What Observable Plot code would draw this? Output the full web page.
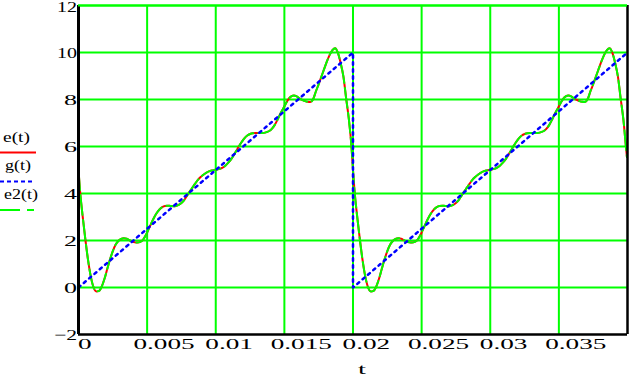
<!DOCTYPE html>
<html>
<head>
<meta charset="utf-8">
<script src="https://cdn.jsdelivr.net/npm/d3@7"></script>
<script src="https://cdn.jsdelivr.net/npm/@observablehq/plot@0.6"></script>
<style>
  html, body { margin: 0; padding: 0; background: #fff; }
  #chart { width: 631px; height: 378px; }
</style>
</head>
<body>
<div id="chart"></div>
<script>
// ---- data ----
const xTicks = [0, 0.005, 0.01, 0.015, 0.02, 0.025, 0.03, 0.035];
const xTickLabels = ["0", "0.005", "0.01", "0.015", "0.02", "0.025", "0.03", "0.035"];
const yTicks = [-2, 0, 2, 4, 6, 8, 10, 12];
const yTickLabels = ["\u22122", "0", "2", "4", "6", "8", "10", "12"];
const xLabel = "t";
const seriesNames = ["e(t)", "g(t)", "e2(t)"];

// first period of e(t)
const tPeriod1 = [0.0000, 0.0001, 0.0003, 0.0005, 0.0007, 0.0009, 0.0011, 0.0013, 0.0015, 0.0017,
  0.0019, 0.0021, 0.0023, 0.0025, 0.0027, 0.0029, 0.0031, 0.0033, 0.0035, 0.0037,
  0.0039, 0.0041, 0.0043, 0.0045, 0.0047, 0.0049, 0.0051, 0.0053, 0.0055, 0.0057,
  0.0059, 0.0061, 0.0063, 0.0065, 0.0067, 0.0069, 0.0071, 0.0073, 0.0075, 0.0077,
  0.0079, 0.0081, 0.0083, 0.0085, 0.0087, 0.0089, 0.0091, 0.0093, 0.0095, 0.0097,
  0.0099, 0.0101, 0.0103, 0.0105, 0.0107, 0.0109, 0.0111, 0.0113, 0.0115, 0.0117,
  0.0119, 0.0121, 0.0123, 0.0125, 0.0127, 0.0129, 0.0131, 0.0133, 0.0135, 0.0137,
  0.0139, 0.0141, 0.0143, 0.0145, 0.0147, 0.0149, 0.0151, 0.0153, 0.0155, 0.0157,
  0.0159, 0.0161, 0.0163, 0.0165, 0.0167, 0.0169, 0.0171, 0.0173, 0.0175, 0.0177,
  0.0179, 0.0181, 0.0183, 0.0185, 0.0187, 0.0189, 0.0191, 0.0193, 0.0195, 0.0197,
  0.0199];
const ePeriod1 = [5.00, 4.20, 3.05, 2.05, 1.15, 0.45, 0.00, -0.17, -0.14, 0.05,
  0.38, 0.80, 1.20, 1.55, 1.82, 1.98, 2.07, 2.10, 2.08, 2.02,
  1.96, 1.92, 1.91, 1.94, 2.03, 2.22, 2.47, 2.73, 2.97, 3.17,
  3.32, 3.42, 3.47, 3.48, 3.47, 3.46, 3.47, 3.52, 3.60, 3.72,
  3.90, 4.08, 4.25, 4.42, 4.58, 4.70, 4.80, 4.88, 4.94, 4.98,
  5.00, 5.02, 5.05, 5.10, 5.18, 5.30, 5.44, 5.62, 5.82, 6.02,
  6.20, 6.36, 6.47, 6.53, 6.56, 6.57, 6.57, 6.57, 6.58, 6.61,
  6.66, 6.76, 6.92, 7.14, 7.38, 7.60, 7.82, 8.02, 8.13, 8.17,
  8.13, 8.05, 7.98, 7.93, 7.90, 7.89, 8.02, 8.35, 8.65, 8.98,
  9.30, 9.62, 9.90, 10.10, 10.18, 9.98, 9.55, 8.98, 8.05, 7.15,
  5.90];

// second period of e(t)
const tPeriod2 = [0.0200, 0.0201, 0.0203, 0.0205, 0.0207, 0.0209, 0.0211, 0.0213, 0.0215, 0.0217,
  0.0219, 0.0221, 0.0223, 0.0225, 0.0227, 0.0229, 0.0231, 0.0233, 0.0235, 0.0237,
  0.0239, 0.0241, 0.0243, 0.0245, 0.0247, 0.0249, 0.0251, 0.0253, 0.0255, 0.0257,
  0.0259, 0.0261, 0.0263, 0.0265, 0.0267, 0.0269, 0.0271, 0.0273, 0.0275, 0.0277,
  0.0279, 0.0281, 0.0283, 0.0285, 0.0287, 0.0289, 0.0291, 0.0293, 0.0295, 0.0297,
  0.0299, 0.0301, 0.0303, 0.0305, 0.0307, 0.0309, 0.0311, 0.0313, 0.0315, 0.0317,
  0.0319, 0.0321, 0.0323, 0.0325, 0.0327, 0.0329, 0.0331, 0.0333, 0.0335, 0.0337,
  0.0339, 0.0341, 0.0343, 0.0345, 0.0347, 0.0349, 0.0351, 0.0353, 0.0355, 0.0357,
  0.0359, 0.0361, 0.0363, 0.0365, 0.0367, 0.0369, 0.0371, 0.0373, 0.0375, 0.0377,
  0.0379, 0.0381, 0.0383, 0.0385, 0.0387, 0.0389, 0.0391, 0.0393, 0.0395, 0.0397,
  0.0399, 0.03996];
const ePeriod2 = [5.00, 4.20, 3.05, 2.05, 1.15, 0.45, 0.00, -0.17, -0.14, 0.05,
  0.38, 0.80, 1.20, 1.55, 1.82, 1.98, 2.07, 2.10, 2.08, 2.02,
  1.96, 1.92, 1.91, 1.94, 2.03, 2.22, 2.47, 2.73, 2.97, 3.17,
  3.32, 3.42, 3.47, 3.48, 3.47, 3.46, 3.47, 3.52, 3.60, 3.72,
  3.90, 4.08, 4.25, 4.42, 4.58, 4.70, 4.80, 4.88, 4.94, 4.98,
  5.00, 5.02, 5.05, 5.10, 5.18, 5.30, 5.44, 5.62, 5.82, 6.02,
  6.20, 6.36, 6.47, 6.53, 6.56, 6.57, 6.57, 6.57, 6.58, 6.61,
  6.66, 6.76, 6.92, 7.14, 7.38, 7.60, 7.82, 8.02, 8.13, 8.17,
  8.13, 8.05, 7.98, 7.93, 7.90, 7.89, 8.02, 8.35, 8.65, 8.98,
  9.30, 9.62, 9.90, 10.10, 10.18, 9.98, 9.55, 8.98, 8.05, 7.15,
  5.90, 5.55];

// g(t): sawtooth
const gT = [0, 0.02, 0.02, 0.04];
const gV = [0, 10, 0, 10];

// ---- build tables ----
const tAll = tPeriod1.concat(tPeriod2);
const eAll = ePeriod1.concat(ePeriod2);
const eData = tAll.map((t, i) => ({t, v: eAll[i]}));
const e2Data = tAll.map((t, i) => ({t, v: eAll[i]}));
const gData = gT.map((t, i) => ({t, v: gV[i]}));

const GREEN = "#00ff00", RED = "#ff0000", BLUE = "#0000ff";
const FONT = "'Liberation Serif', 'Times New Roman', serif";

const plot = Plot.plot({
  width: 631,
  height: 378,
  marginLeft: 78,
  marginRight: 4,
  marginTop: 5,
  marginBottom: 44,
  x: {domain: [0, 0.04], axis: null},
  y: {domain: [-2, 12], axis: null},
  style: {background: "#fff", fontFamily: FONT},
  marks: [
    Plot.gridX(xTicks.slice(1), {stroke: GREEN, strokeOpacity: 1, strokeWidth: 2}),
    Plot.gridY(yTicks.slice(1), {stroke: GREEN, strokeOpacity: 1, strokeWidth: 2}),
    Plot.line(eData, {x: "t", y: "v", stroke: RED, strokeWidth: 2, curve: "monotone-x"}),
    Plot.line(e2Data, {x: "t", y: "v", stroke: GREEN, strokeWidth: 2, strokeDasharray: "20,5", curve: "monotone-x"}),
    Plot.line(gData, {x: "t", y: "v", stroke: BLUE, strokeWidth: 2.5, strokeDasharray: "2.5,4.5"}),
    Plot.ruleX([0], {stroke: "#000", strokeWidth: 3}),
    Plot.ruleX([0.04], {stroke: "#000", strokeWidth: 2.5}),
    Plot.ruleY([-2], {stroke: "#000", strokeWidth: 2.5}),
    Plot.ruleY([12], {stroke: GREEN, strokeWidth: 2})
  ]
});

document.getElementById("chart").appendChild(plot);

const sx = plot.scale("x"), sy = plot.scale("y");
const svg = d3.select(plot);
const labels = svg.append("g").attr("font-family", FONT).attr("fill", "#000").attr("font-weight", "normal");

// x tick labels (stretched serif like the original)
xTicks.forEach((v, i) => {
  const s = xTickLabels[i];
  const nd = s.replace(".", "").length;
  const dot = s.includes(".") ? 1 : 0;
  labels.append("text")
    .attr("x", sx.apply(v) - (s.length - 1) * 3.3)
    .attr("y", 349)
    .attr("font-size", 14)
    .attr("text-anchor", "start")
    .attr("textLength", 13.6 * nd + 6.8 * dot)
    .attr("lengthAdjust", "spacingAndGlyphs")
    .text(s);
});

// y tick labels
yTicks.forEach((v, i) => {
  const s = yTickLabels[i];
  const tl = s.length === 1 ? 13 : (s.startsWith("\u2212") ? 23 : 20);
  labels.append("text")
    .attr("x", 77)
    .attr("y", Math.max(sy.apply(v) + 6, 12))
    .attr("font-size", 15)
    .attr("text-anchor", "end")
    .attr("textLength", tl)
    .attr("lengthAdjust", "spacingAndGlyphs")
    .text(s);
});

// axis title
labels.append("text")
  .attr("x", 358).attr("y", 374)
  .attr("font-size", 15)
  .attr("text-anchor", "start")
  .attr("textLength", 8).attr("lengthAdjust", "spacingAndGlyphs")
  .text(xLabel);

// legend on the left
const legend = svg.append("g").attr("font-family", FONT).attr("fill", "#000").attr("font-size", 15).attr("text-anchor", "start");
legend.append("text").attr("x", 3).attr("y", 142).attr("textLength", 27).attr("lengthAdjust", "spacingAndGlyphs").text(seriesNames[0]);
legend.append("line").attr("x1", 0).attr("x2", 36).attr("y1", 152.5).attr("y2", 152.5).attr("stroke", RED).attr("stroke-width", 2);
legend.append("text").attr("x", 5).attr("y", 170).attr("textLength", 26).attr("lengthAdjust", "spacingAndGlyphs").text(seriesNames[1]);
legend.append("line").attr("x1", 0).attr("x2", 32).attr("y1", 181.5).attr("y2", 181.5).attr("stroke", BLUE).attr("stroke-width", 2).attr("stroke-dasharray", "4,3");
legend.append("text").attr("x", 4).attr("y", 199).attr("textLength", 34).attr("lengthAdjust", "spacingAndGlyphs").text(seriesNames[2]);
legend.append("line").attr("x1", 0).attr("x2", 34).attr("y1", 210).attr("y2", 210).attr("stroke", GREEN).attr("stroke-width", 2).attr("stroke-dasharray", "20,7");
</script>
</body>
</html>
